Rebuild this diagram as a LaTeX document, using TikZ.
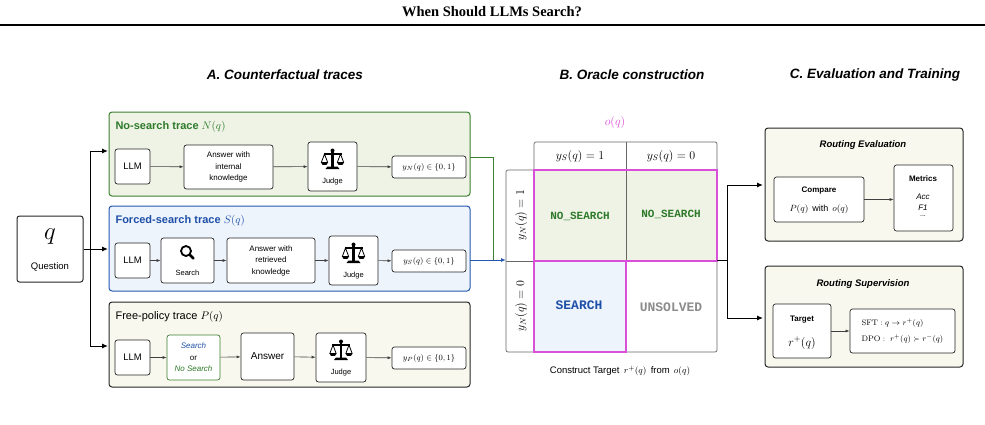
\documentclass[tikz,border=0pt]{standalone}
\usepackage[no-math]{fontspec}
\setmainfont{Liberation Sans}
\newfontfamily\titlefont{Liberation Serif}
\newfontfamily\monofont{Liberation Mono}
\usetikzlibrary{arrows.meta}
\definecolor{gfill}{HTML}{EEF3E6}
\definecolor{gline}{HTML}{3C7F2E}
\definecolor{gtext}{HTML}{2E7A2A}
\definecolor{bfill}{HTML}{EEF4FB}
\definecolor{bline}{HTML}{2357B0}
\definecolor{btext}{HTML}{1E4FA8}
\definecolor{yfill}{HTML}{F8F8EE}
\definecolor{mag}{HTML}{D94FD9}
\begin{document}
\begin{tikzpicture}[x=1pt,y=-1pt,
  box/.style={draw=black!85,rounded corners=2.5pt,fill=white,line width=0.7pt,align=center,font=\fontsize{8}{11.5}\selectfont,inner sep=0pt},
  panel/.style={rounded corners=3pt,line width=1pt},
  arr/.style={-{Latex[length=4pt,width=3pt]},line width=0.6pt,black!75},
  bigarr/.style={-{Latex[length=6pt,width=5pt]},line width=1pt},
  ptitle/.style={anchor=west,font=\fontsize{11}{13}\selectfont},
  sec/.style={font=\bfseries\itshape\fontsize{13.5}{16}\selectfont},
  judgeicon/.pic={
    \fill (-1.3,-9) rectangle (1.3,7);
    \fill (-7,9) -- (7,9) -- (5,6.5) -- (-5,6.5) -- cycle;
    \fill (-9,-6.8) rectangle (9,-5.2);
    \fill (0,-9.5) circle (2);
    \draw[line width=0.8pt] (-11,2) -- (-8,-6) -- (-5,2) (5,2) -- (8,-6) -- (11,2);
    \fill (-11.8,2) -- (-4.2,2) -- (-6,4.8) -- (-10,4.8) -- cycle;
    \fill (4.2,2) -- (11.8,2) -- (10,4.8) -- (6,4.8) -- cycle;
  },
  searchicon/.pic={
    \draw[line width=1.8pt] (-1.5,-2) circle (5);
    \draw[line width=2.6pt,line cap=round] (2.2,1.7) -- (6,5.5);
  }]
\useasboundingbox (0,0) rectangle (985,424);
% title
\node[font=\titlefont\bfseries\fontsize{14.5}{16}\selectfont] (title) at (492,12) {When Should LLMs Search?};
\draw[line width=1.3pt] (0,25) -- (985,25);
\node[sec] (sa) at (285,75) {A. Counterfactual traces};
\node[sec] (sb) at (632,75) {B. Oracle construction};
\node[sec] (sc) at (875,75) {C. Evaluation and Training};

% question
\node[box,minimum width=66pt,minimum height=66pt,line width=1pt] (q) at (50,249) {};
\node (qq) at (50,237) {\fontsize{28}{28}\selectfont$q$};
\node[font=\fontsize{9.5}{11}\selectfont] (ql) at (50,267) {Question};

% panels
\draw[panel,draw=gline,fill=gfill] (109,112) rectangle (470,196);
\node[ptitle,text=gtext] (tN) at (112,127) {\textbf{No-search trace} $N(q)$};
\draw[panel,draw=bline,fill=bfill] (109,206) rectangle (470,291);
\node[ptitle,text=btext] (tS) at (112,221) {\textbf{Forced-search trace} $S(q)$};
\draw[panel,draw=black!85,fill=yfill] (109,302) rectangle (470,387);
\node[ptitle,text=black] (tP) at (112,317) {Free-policy trace $P(q)$};

\coordinate (pNr) at (470,157);
\coordinate (pSr) at (470,260);
\coordinate (pSl) at (108,249);
\coordinate (pNl) at (108,151);
\coordinate (pPl) at (108,346);
\coordinate (trk) at (90,249);

\draw[line width=1pt] (q.east) -- (trk);
\draw[bigarr] (90,249) |- (pNl);
\draw[bigarr] (90,249) -- (pSl);
\draw[bigarr] (90,249) |- (pPl);

% row N
\node[box,minimum width=35pt,minimum height=35pt,font=\fontsize{9.5}{11}\selectfont] (llmN) at (132.5,166.5) {LLM};
\node[box,minimum width=89pt,minimum height=44pt] (ansN) at (228.5,167) {Answer with\\internal\\knowledge};
\node[box,minimum width=49pt,minimum height=49pt] (jN) at (332.5,166.5) {};
\pic at (332.5,160) {judgeicon};
\node[font=\fontsize{7.5}{9}\selectfont] (jNl) at (332.5,182) {Judge};
\node[box,minimum width=74pt,minimum height=22pt] (yN) at (429,167) {$y_N(q)\in\{0,1\}$};
\draw[arr] (llmN) -- (ansN);
\draw[arr] (ansN) -- (jN);
\draw[arr] (jN) -- (yN);

% row S
\node[box,minimum width=35pt,minimum height=35pt,font=\fontsize{9.5}{11}\selectfont] (llmS) at (132.5,260.5) {LLM};
\node[box,minimum width=53pt,minimum height=45pt] (srS) at (187.5,260.5) {};
\pic at (187.5,253) {searchicon};
\node[font=\fontsize{7.5}{9}\selectfont] (srSl) at (187.5,273) {Search};
\node[box,minimum width=88pt,minimum height=45pt] (ansS) at (271,260.5) {Answer with\\retrieved\\knowledge};
\node[box,minimum width=49pt,minimum height=49pt] (jS) at (353.5,260.5) {};
\pic at (353.5,254) {judgeicon};
\node[font=\fontsize{7.5}{9}\selectfont] (jSl) at (353.5,276) {Judge};
\node[box,minimum width=74pt,minimum height=22pt] (yS) at (429,261) {$y_S(q)\in\{0,1\}$};
\draw[arr] (llmS) -- (srS);
\draw[arr] (srS) -- (ansS);
\draw[arr] (ansS) -- (jS);
\draw[arr] (jS) -- (yS);

% row P
\node[box,minimum width=35pt,minimum height=35pt,font=\fontsize{9.5}{11}\selectfont] (llmP) at (132.5,357.5) {LLM};
\node[box,minimum width=53pt,minimum height=45pt,draw=gline] (srP) at (193.5,357.5) {\textcolor{btext}{\itshape Search}\\or\\\textcolor{gtext}{\itshape No Search}};
\node[box,minimum width=53pt,minimum height=47pt,font=\fontsize{10}{12}\selectfont] (ansP) at (267.5,356.5) {Answer};
\node[box,minimum width=50pt,minimum height=49pt] (jP) at (341,357.5) {};
\pic at (341,351) {judgeicon};
\node[font=\fontsize{7.5}{9}\selectfont] (jPl) at (341,373) {Judge};
\node[box,minimum width=74pt,minimum height=22pt] (yP) at (429,358) {$y_P(q)\in\{0,1\}$};
\draw[arr] (llmP) -- (srP);
\draw[arr] (srP) -- (ansP);
\draw[arr] (ansP) -- (jP);
\draw[arr] (jP) -- (yP);

% matrix
\node[text=mag,font=\fontsize{13}{14}\selectfont] (oq) at (615,122) {$o(q)$};
\coordinate (mIn) at (506,260);
\fill[gfill] (534,170) rectangle (717,261);
\fill[bfill] (534,261) rectangle (626,352);
\draw[black!60,line width=0.7pt,rounded corners=2pt] (534,170) -- (534,142) -- (717,142) -- (717,170);
\draw[black!60,line width=0.7pt] (626,142) -- (626,170) (534,170) -- (717,170);
\draw[black!60,line width=0.7pt,rounded corners=2pt] (534,170) -- (506,170) -- (506,352) -- (717,352) -- (717,170);
\draw[black!60,line width=0.7pt] (506,261) -- (534,261) (626,170) -- (626,261);
\draw[mag,line width=1.4pt] (534,170) rectangle (717,261);
\draw[mag,line width=1.4pt] (534,261) rectangle (626,352);
\draw[mag,line width=1.4pt] (626,261) -- (717,261);
\node[font=\fontsize{12}{13}\selectfont] (h1) at (580,156) {$y_S(q)=1$};
\node[font=\fontsize{12}{13}\selectfont] (h2) at (671,156) {$y_S(q)=0$};
\node[rotate=90,font=\fontsize{12}{13}\selectfont] (r1) at (521,215) {$y_N(q)=1$};
\node[rotate=90,font=\fontsize{12}{13}\selectfont] (r2) at (521,306) {$y_N(q)=0$};
\node[text=gtext,font=\monofont\bfseries\fontsize{11}{12}\selectfont] (c11) at (580,216) {NO\_SEARCH};
\node[text=gtext,font=\monofont\bfseries\fontsize{11}{12}\selectfont] (c12) at (671,214) {NO\_SEARCH};
\node[text=btext,font=\monofont\bfseries\fontsize{13}{14}\selectfont] (c21) at (579,305) {SEARCH};
\node[text=black!45,font=\monofont\bfseries\fontsize{13}{14}\selectfont] (c22) at (671,307) {UNSOLVED};
\node[font=\fontsize{9.5}{11}\selectfont] (cap) at (620,371) {Construct Target\, $r^{+}(q)$\, from\, $o(q)$};

\draw[gline,line width=1pt] (pNr) -- (493,157) -- (493,260);
\draw[bline,line width=1pt,-{Latex[length=5pt,width=4pt]}] (pSr) -- (mIn);

% right side
\coordinate (mOut) at (717,260);
\draw[panel,draw=black!85,fill=yfill] (765,128) rectangle (963,241);
\coordinate (evL) at (763,185);
\node[font=\bfseries\itshape\fontsize{9.5}{11}\selectfont] (evT) at (863,145) {Routing Evaluation};
\node[box,minimum width=90pt,minimum height=45pt] (cmp) at (819,199.5) {};
\node[font=\bfseries\fontsize{8}{9}\selectfont] (cmpt) at (819,191) {Compare};
\node[font=\fontsize{9}{10}\selectfont] (cmpb) at (819,209) {$P(q)$\, with\, $o(q)$};
\node[box,minimum width=59pt,minimum height=66pt] (met) at (923.5,198) {};
\node[font=\bfseries\fontsize{8}{9}\selectfont] (mett) at (923,179) {Metrics};
\node[font=\itshape\fontsize{8}{9}\selectfont] (acc) at (923,196.5) {Acc};
\node[font=\itshape\fontsize{8}{9}\selectfont] (f1) at (923,207.5) {F1};
\node[font=\fontsize{7}{8}\selectfont] (dots) at (923,216) {...};
\draw[arr] (cmp) -- (cmp.east -| met.west);

\draw[panel,draw=black!85,fill=yfill] (765,266) rectangle (963,367);
\coordinate (suL) at (763,318);
\node[font=\bfseries\itshape\fontsize{9.5}{11}\selectfont] (suT) at (863,284) {Routing Supervision};
\node[box,minimum width=58pt,minimum height=54pt] (tg) at (802,331) {};
\node[font=\bfseries\fontsize{8}{9}\selectfont] (tgt) at (802,320) {Target};
\node[font=\fontsize{12}{13}\selectfont] (tgb) at (802,343) {$r^{+}(q)$};
\node[box,minimum width=105pt,minimum height=44pt,align=left,font=\fontsize{8.5}{15.5}\selectfont] (sft) at (902.5,331) {$\mathrm{SFT}: q\rightarrow r^{+}(q)$\\$\mathrm{DPO}:\ r^{+}(q)\succ r^{-}(q)$};
\draw[arr] (tg.east |- sft.west) -- (sft.west);

\draw[line width=1pt] (mOut) -- (727,260);
\draw[bigarr] (727,260) |- (evL);
\draw[bigarr] (727,260) |- (suL);
\end{tikzpicture}
\end{document}
